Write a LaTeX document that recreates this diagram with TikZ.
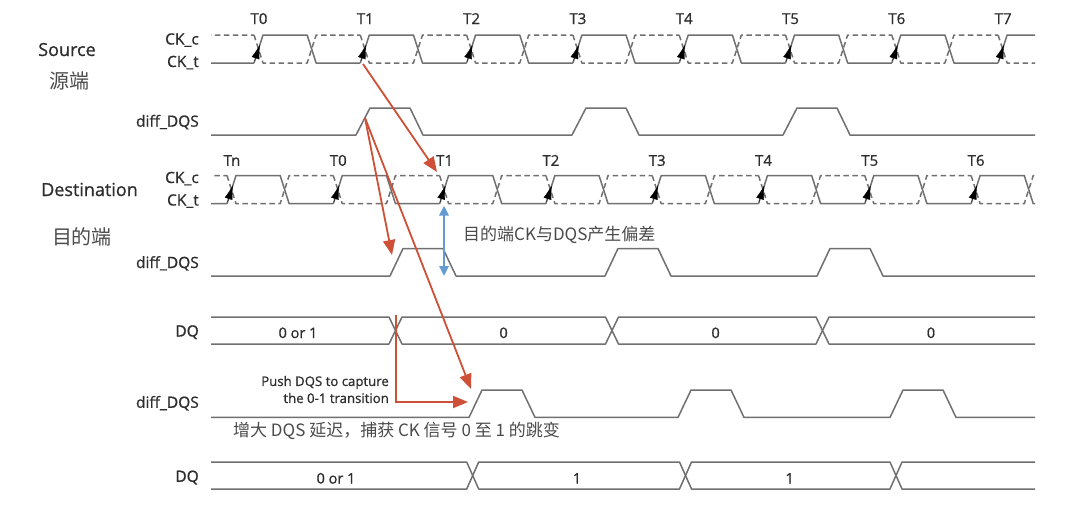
\documentclass[tikz,border=0pt]{standalone}
\usepackage{fontspec}
\setmainfont{Open Sans}
\newfontface\lblfont{Open Sans}[FakeBold=0.8]
\newfontfamily\cjkfont{Noto Sans CJK SC}
\usetikzlibrary{arrows.meta,positioning,calc}
\definecolor{wavegray}{RGB}{112,112,112}
\definecolor{textgray}{RGB}{45,45,45}
\definecolor{cjkgray}{RGB}{75,75,75}
\definecolor{pushred}{RGB}{205,80,55}
\definecolor{skewblue}{RGB}{100,155,210}

\begin{document}
\begin{tikzpicture}[x=1pt,y=-1pt,
    wave/.style={draw=wavegray, line width=1.5pt, line join=round},
    ckc/.style={wave, dash pattern=on 5.5pt off 3.5pt},
    sig/.style={text=textgray, font=\lblfont\fontsize{15.5}{16}\selectfont, inner sep=0, anchor=base east},
    tlbl/.style={text=textgray, font=\lblfont\fontsize{15}{16}\selectfont, inner sep=0, anchor=base},
    val/.style={text=textgray, font=\lblfont\fontsize{14.5}{15}\selectfont, inner sep=0, anchor=base},
    side/.style={text=textgray, font=\lblfont\fontsize{18}{20}\selectfont, inner sep=0},
    cjk/.style={text=cjkgray, font=\cjkfont\fontsize{17}{20}\selectfont, inner sep=0},
    redarrow/.style={draw=pushred, line width=1.8pt, -{Triangle[length=15pt,width=12pt]}},
    edgetip/.style={draw=black, line width=0.3pt, -{Latex[length=14pt,width=8pt]}}]
    \fill[white] (0,0) rectangle (1080,507);
    \useasboundingbox (0,0) rectangle (1080,507);

    \node[side, anchor=base] (src) at (67,56) {Source};
    \node[cjk, font=\cjkfont\fontsize{20}{22}\selectfont] (srccn) at (69,81) {源端};
    \node[side, anchor=base] (dst) at (89.5,196) {Destination};
    \node[cjk, font=\cjkfont\fontsize{20}{22}\selectfont] (dstcn) at (82,237) {目的端};

    \node[sig] (srcckc) at (199,44.5) {CK\_c};
    \node[sig] (srcckt) at (199,67) {CK\_t};
    \node[sig] (srcdqs) at (199,126.7) {diff\_DQS};
    \node[sig] (dstckc) at (199,183) {CK\_c};
    \node[sig] (dstckt) at (199,205.5) {CK\_t};
    \node[sig] (dstdqs) at (199,268) {diff\_DQS};
    \node[sig] (dqa) at (199,336.5) {DQ};
    \node[sig] (capdqs) at (199,407.8) {diff\_DQS};
    \node[sig] (dqb) at (199,481.8) {DQ};

    \begin{scope}
        \clip (211,0) rectangle (1035,507);
        \foreach \k in {-1,...,8} {
            \pgfmathsetmacro{\r}{254+106.3*\k}
            \draw[wave] (\r,63) -- (\r+9,35) -- (\r+53.15,35) -- (\r+62.15,63) -- (\r+106.3,63);
            \draw[ckc] (\r,35) -- (\r+9,63) -- (\r+53.15,63) -- (\r+62.15,35) -- (\r+106.3,35);
            \pgfmathsetmacro{\q}{227+106.3*\k}
            \draw[wave] (\q,203.7) -- (\q+9,175.5) -- (\q+53.15,175.5) -- (\q+62.15,203.7) -- (\q+106.3,203.7);
            \draw[ckc] (\q,175.5) -- (\q+9,203.7) -- (\q+53.15,203.7) -- (\q+62.15,175.5) -- (\q+106.3,175.5);
        }
    \end{scope}

    \foreach \k/\t in {0/T0,1/T1,2/T2,3/T3,4/T4,5/T5,6/T6,7/T7} {
        \pgfmathsetmacro{\r}{254+106.3*\k}
        \draw[edgetip] (\r+0.6,61) -- (\r+5.85,44.8);
        \node[tlbl] (src\t) at (\r+5,24) {\t};
    }
    \foreach \k/\t in {0/Tn,1/T0,2/T1,3/T2,4/T3,5/T4,6/T5,7/T6} {
        \pgfmathsetmacro{\q}{227+106.3*\k}
        \draw[edgetip] (\q+0.6,201.8) -- (\q+5.85,185.4);
        \node[tlbl] (dst\t) at (\q+5,165.8) {\t};
    }

    \draw[wave] (211,135) \foreach \s in {356,572,783} { -- (\s,135) -- (\s+14,108) -- (\s+54,108) -- (\s+67,135) } -- (1035,135);
    \draw[wave] (211,276) \foreach \s in {390,605,817} { -- (\s,276) -- (\s+13,248.5) -- (\s+53,248.5) -- (\s+66,276) } -- (1035,276);
    \draw[wave] (211,417.4) \foreach \s in {469,678,890} { -- (\s,417.4) -- (\s+13,390) -- (\s+53,390) -- (\s+66,417.4) } -- (1035,417.4);

    \draw[wave] (211,317) -- (389,317) -- (402,344) -- (605.5,344) -- (618.5,317) -- (816,317) -- (829,344) -- (1035,344);
    \draw[wave] (211,344) -- (389,344) -- (402,317) -- (605.5,317) -- (618.5,344) -- (816,344) -- (829,317) -- (1035,317);
    \node[val] (dqa0) at (298,338) {0 or 1};
    \node[val] (dqa1) at (503.6,338) {0};
    \node[val] (dqa2) at (715.6,338) {0};
    \node[val] (dqa3) at (931,338) {0};

    \draw[wave] (211,462) -- (466.7,462) -- (478.7,489) -- (679.5,489) -- (691.5,462) -- (890,462) -- (902,489) -- (1035,489);
    \draw[wave] (211,489) -- (466.7,489) -- (478.7,462) -- (679.5,462) -- (691.5,489) -- (890,489) -- (902,462) -- (1035,462);
    \node[val] (dqb0) at (336,483.5) {0 or 1};
    \node[val] (dqb1) at (577,483.5) {1};
    \node[val] (dqb2) at (789.6,483.5) {1};

    \coordinate (ckT1) at (363,64);
    \coordinate (dstT1) at (437,172);
    \coordinate (dqsRise) at (365,118);
    \coordinate (dstRise) at (392,255);
    \coordinate (capRise) at (471,389);
    \coordinate (dqEdge) at (396,315);
    \coordinate (pushTip) at (468,402);
    \coordinate (skewTop) at (444,205.5);
    \coordinate (skewBot) at (444,276);

    \draw[redarrow] (ckT1) -- (dstT1);
    \draw[redarrow] (dqsRise) -- (dstRise);
    \draw[redarrow] (dqsRise) -- (capRise);
    \draw[redarrow] (dqEdge) |- (pushTip);
    \draw[draw=skewblue, line width=2.5pt, {Triangle[length=10pt,width=9pt]}-{Triangle[length=10pt,width=9pt]}] (skewTop) -- (skewBot);

    \node[cjk, anchor=west] (skew) at (463,234.7) {目的端CK与DQS产生偏差};
    \node[text=textgray, font=\lblfont\fontsize{13.2}{17}\selectfont, inner sep=0, align=right, anchor=east] (push) at (389,389.5) {Push DQS to capture\\the 0-1 transition};
    \node[cjk, anchor=west] (delay) at (233,431) {增大 DQS 延迟，捕获 CK 信号 0 至 1 的跳变};
\end{tikzpicture}
\end{document}
